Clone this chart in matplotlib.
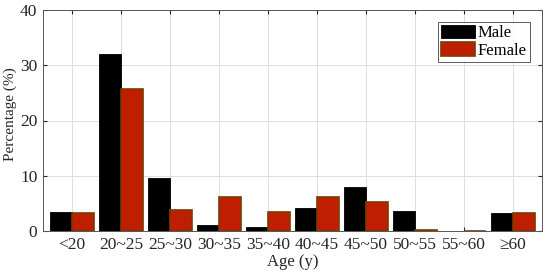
import matplotlib
matplotlib.use("Agg")
import matplotlib.pyplot as plt
import numpy as np

categories = ["<20", "20~25", "25~30", "30~35", "35~40", "40~45", "45~50", "50~55", "55~60", "≥60"]
male = [3.4, 32.0, 9.6, 1.0, 0.7, 4.1, 8.0, 3.6, 0.0, 3.25]
female = [3.2, 25.7, 3.8, 6.1, 3.4, 6.1, 5.3, 0.25, 0.0, 3.2]

plt.rcParams['font.family'] = ['Liberation Serif', 'DejaVu Serif']
fig = plt.figure(figsize=(5.5, 2.77), dpi=100)
ax = fig.add_axes([43/550, 1-231/277, (542-43)/550, (231-10)/277])

x = np.arange(1, len(categories) + 1)
w = 0.45
ax.bar(x - w/2, male, w, color='black', edgecolor='black', linewidth=0.6, label='Male', zorder=3)
ax.bar(x + w/2, female, w, color='#c01e00', edgecolor='#7a3a00', linewidth=1.2, label='Female', zorder=3)

ax.set_xlim(0.41, 10.59)
ax.set_ylim(0, 40)
ax.set_yticks([0, 10, 20, 30, 40])
ax.set_xticks(x)
ax.set_xticklabels(categories)
ax.grid(True, color='#dedede', linewidth=0.7, zorder=0)
ax.tick_params(direction='in', top=True, right=True, labelsize=12.5, colors='#262626', length=3, pad=4)
for s in ax.spines.values():
    s.set_color('#555555')
    s.set_linewidth(0.7)
ax.set_xlabel('Age (y)', fontsize=12, color='#262626', labelpad=1)
ax.set_ylabel('Percentage (%)', fontsize=11, color='#262626', labelpad=3)
ax.yaxis.set_label_coords(-0.052, 0.53)
leg = ax.legend(loc='upper right', fontsize=12, frameon=True, fancybox=False,
                edgecolor='#333333', borderpad=0.2, handlelength=2.0, handleheight=0.85,
                handletextpad=0.2, labelspacing=0.05, borderaxespad=0.7)
leg.get_frame().set_linewidth(0.7)
fig.savefig('out.png', dpi=100)
